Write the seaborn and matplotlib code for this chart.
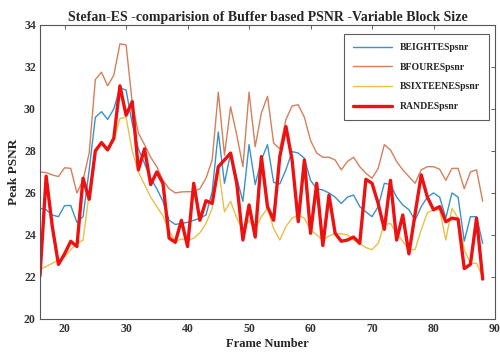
import numpy as np
import pandas as pd
import matplotlib
matplotlib.use("Agg")
import matplotlib.pyplot as plt
import seaborn as sns

# Frame numbers 16..88
frames = list(range(16, 89))

beight = [25.27, 25.2, 24.95, 24.87, 25.4, 25.4, 24.6, 24.87, 27.1, 29.6,
          29.87, 29.5, 30.0, 31.0, 30.9, 29.3, 28.1, 27.4, 26.7, 26.2,
          25.6, 24.7, 24.5, 24.55, 24.6, 24.7, 24.8, 24.95, 26.06, 28.9,
          26.46, 27.9, 26.7, 25.6, 28.3, 26.4, 27.57, 28.3, 26.5, 26.43,
          27.1, 27.97, 27.9, 27.65, 26.6, 26.2, 26.14, 26.0, 25.8, 25.5,
          25.8, 25.9, 25.35, 25.1, 24.87, 25.35, 26.46, 26.4, 25.8, 25.43,
          25.2, 24.7, 25.35, 25.8, 26.0, 25.8, 24.8, 26.0, 25.8, 23.7,
          24.87, 24.87, 23.6]

bfour = [27.0, 26.97, 26.86, 26.78, 27.2, 27.17, 26.0, 26.6, 27.9, 31.4,
         31.75, 31.1, 31.6, 33.1, 33.05, 30.3, 28.85, 28.3, 27.7, 27.25,
         26.6, 26.2, 26.0, 26.05, 26.06, 26.06, 26.2, 26.7, 27.57, 30.8,
         27.8, 30.1, 28.76, 27.25, 30.8, 28.2, 29.8, 30.6, 28.37, 28.1,
         29.5, 30.14, 30.2, 29.6, 28.5, 27.9, 27.7, 27.7, 27.57, 27.1,
         27.5, 27.7, 27.25, 26.94, 26.7, 27.17, 28.3, 28.05, 27.5, 27.1,
         26.78, 26.46, 27.1, 27.25, 27.25, 27.13, 26.6, 27.17, 27.17, 26.2,
         27.0, 27.1, 25.6]

bsixteen = [22.36, 22.5, 22.65, 22.8, 22.95, 23.3, 23.6, 23.75, 26.0, 28.05,
            28.4, 28.1, 28.5, 29.55, 29.6, 28.0, 27.0, 26.4, 25.8, 25.35,
            24.9, 24.2, 23.7, 23.8, 23.76, 23.84, 24.1, 24.55, 25.27, 27.25,
            25.1, 25.6, 24.8, 24.24, 24.7, 24.3, 24.87, 25.27, 24.3, 23.76,
            24.4, 24.8, 24.95, 24.8, 24.24, 24.0, 23.76, 23.95, 24.08, 24.05,
            24.0, 23.76, 23.6, 23.4, 23.3, 23.6, 24.5, 24.55, 24.08, 23.7,
            23.3, 23.3, 24.24, 25.06, 25.2, 25.2, 23.76, 25.27, 24.8, 23.3,
            22.65, 22.65, 22.0]

rand = [22.05, 26.8, 24.4, 22.6, 23.1, 23.7, 23.45, 26.7, 25.7, 28.0,
        28.4, 28.05, 28.6, 31.1, 29.7, 30.35, 27.1, 28.1, 26.4, 27.0,
        26.45, 23.85, 23.65, 24.7, 23.45, 26.46, 24.7, 25.63, 25.5, 27.25,
        27.57, 27.9, 26.46, 23.76, 25.43, 23.9, 27.73, 25.35, 24.7, 27.73,
        29.16, 27.57, 24.63, 27.57, 24.08, 26.46, 23.5, 25.9, 24.08, 23.7,
        23.76, 23.9, 23.6, 26.65, 26.46, 25.5, 24.27, 26.6, 23.76, 24.95,
        23.1, 25.0, 26.86, 25.8, 25.2, 25.35, 24.63, 24.8, 24.75, 22.4,
        22.6, 24.8, 21.9]

series_names = ["BEIGHTESpsnr", "BFOURESpsnr", "BSIXTEENESpsnr", "RANDESpsnr"]
colors = ["#3a92c9", "#d4805c", "#e8c04a", "#ee1111"]
widths = [1.0, 1.0, 1.0, 2.4]

x_ticks = list(range(20, 91, 10))
y_ticks = list(range(20, 35, 2))

df = pd.DataFrame({"frame": frames, series_names[0]: beight, series_names[1]: bfour,
                   series_names[2]: bsixteen, series_names[3]: rand})

sns.set_theme(style="white")
plt.rcParams["font.family"] = ["Liberation Serif", "DejaVu Serif"]
plt.rcParams["font.weight"] = "bold"

fig = plt.figure(figsize=(5.0, 3.56), dpi=100)
ax = fig.add_axes([0.08, 0.104, 0.91, 0.826])

for name, c, lw in zip(series_names, colors, widths):
    sns.lineplot(data=df, x="frame", y=name, ax=ax, color=c, linewidth=lw, label=name)

ax.set_xlim(16, 90)
ax.set_ylim(20, 34)
ax.set_xticks(x_ticks)
ax.set_yticks(y_ticks)
ax.tick_params(direction="in", length=3, width=0.6, color="#444444",
               top=True, right=True, labelsize=8.5, pad=3)
for lab in ax.get_xticklabels() + ax.get_yticklabels():
    lab.set_fontweight("bold")
    lab.set_color("#333333")
for sp in ax.spines.values():
    sp.set_color("#555555")
    sp.set_linewidth(0.8)

ax.set_title("Stefan-ES -comparision of Buffer based PSNR -Variable Block Size",
             fontsize=10, fontweight="bold", pad=3)
ax.set_xlabel("Frame Number", fontsize=9, fontweight="bold", labelpad=2)
ax.set_ylabel("Peak PSNR", fontsize=9.5, fontweight="bold", labelpad=3)

leg = ax.legend(loc="upper right", fontsize=7, frameon=True, fancybox=False,
                edgecolor="#333333", borderpad=0.9, labelspacing=1.1,
                handlelength=4.0, bbox_to_anchor=(0.997, 0.985))
leg.get_frame().set_linewidth(0.8)
for t in leg.get_texts():
    t.set_fontweight("bold")

fig.savefig("out.png", dpi=100)
